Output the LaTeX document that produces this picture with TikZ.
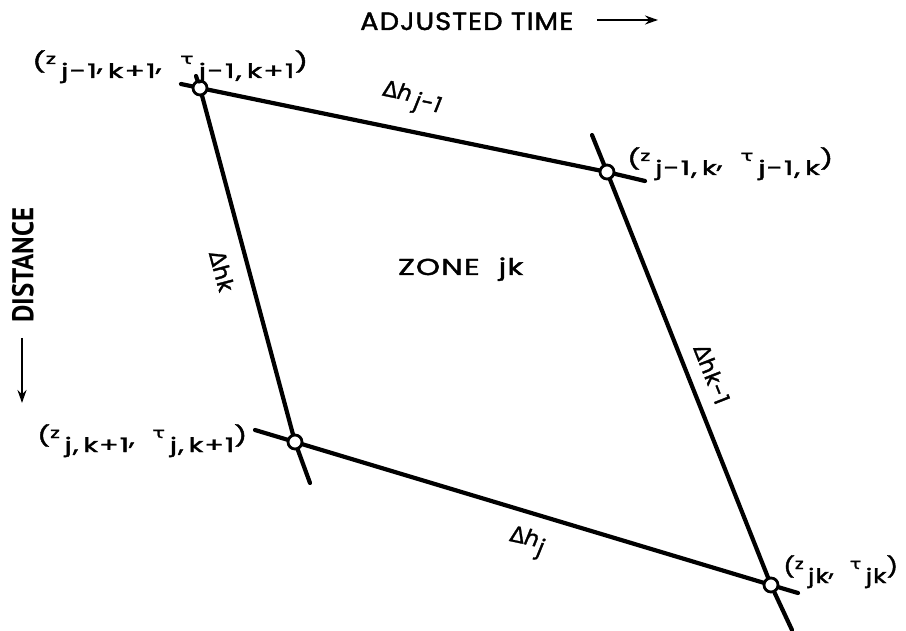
\documentclass[tikz,border=0pt]{standalone}
\usepackage{fontspec}
\usepackage{graphicx}
\setmainfont{Poppins}[FakeBold=1.6, LetterSpace=4]
\newfontfamily\gk{DejaVu Sans}[FakeBold=1.2]
\newfontfamily\distfont{PT Sans}
\usetikzlibrary{arrows.meta}
\newcommand\fitw[2]{\resizebox{#1}{\height}{#2}}
\newcommand\pr[1]{\raisebox{9pt}{#1}}
\newcommand\sm[1]{\raisebox{14pt}{\fontsize{15}{15}\selectfont #1}}
\newcommand\cm{\raisebox{7pt}{,}}
\newcommand\tu{\sm{\gk τ}}
\begin{document}
\begin{tikzpicture}[x=1pt,y=-1pt,
  edge/.style={line width=4.2pt, line cap=round},
  junction/.style={circle, draw, fill=white, line width=2.8pt, inner sep=0pt, minimum size=14pt},
  lbl/.style={font=\fontsize{20}{20}\selectfont, inner sep=0pt, anchor=base west},
  dlbl/.style={font=\fontsize{22}{22}\selectfont, inner sep=0pt},
  axis/.style={inner sep=0pt, anchor=base west},
  pointer/.style={line width=2.4pt, -{Stealth[length=13pt,width=9pt]}}]
\useasboundingbox (0,0) rectangle (906,631);
% junction positions
\coordinate (A) at (200,88);
\coordinate (B) at (607,172);
\coordinate (C) at (295,442);
\coordinate (D) at (771,585);
% free ends
\coordinate (aL) at (181,84);
\coordinate (bR) at (645,181);
\coordinate (aT) at (196,76);
\coordinate (cB) at (310,483);
\coordinate (bT) at (592,135);
\coordinate (dB) at (792,630);
\coordinate (cL) at (255,430);
\coordinate (dR) at (798,593);
\draw[edge] (aL) -- (A) -- (B) -- (bR);
\draw[edge] (aT) -- (A) -- (C) -- (cB);
\draw[edge] (bT) -- (B) -- (D) -- (dB);
\draw[edge] (cL) -- (C) -- (D) -- (dR);
\node[junction] (jA) at (A) {};
\node[junction] (jB) at (B) {};
\node[junction] (jC) at (C) {};
\node[junction] (jD) at (D) {};
% axis labels
\node[axis, font=\fontsize{25}{25}\selectfont] (time) at (360,30) {\fitw{213pt}{ADJUSTED TIME}};
\coordinate (tS) at (597,20);
\coordinate (tE) at (658,20);
\draw[pointer] (tS) -- (tE);
\node[font=\distfont\bfseries\fontsize{30}{30}\selectfont, inner sep=0pt, rotate=90] (dist) at (23,265) {\fitw{115pt}{DISTANCE}};
\coordinate (dS) at (22,338);
\coordinate (dE) at (22,403);
\draw[pointer] (dS) -- (dE);
% corner labels
\node[lbl] (lA) at (32,78) {\fitw{276pt}{\pr{(}\sm{z}\,j-1\cm\,k+1\cm\ \ \tu\,j-1,\,k+1\pr{)}}};
\node[lbl] (lB) at (627,175) {\fitw{206pt}{\pr{(}\sm{z}\,j-1,\,k\cm\ \ \tu\,j-1,\,k\pr{)}}};
\node[lbl] (lC) at (37,452) {\fitw{210pt}{\pr{(}\sm{z}\,j,\,k+1\cm\ \ \tu\,j,\,k+1\pr{)}}};
\node[lbl] (lD) at (783,583) {\fitw{115pt}{\pr{(}\sm{z}\,jk\cm\ \ \tu\,jk\pr{)}}};
% zone
\node[axis, font=\fontsize{23}{23}\selectfont] (zone) at (398,275) {\fitw{125pt}{ZONE\ \ jk}};
% increments
\node[dlbl, rotate=-11.7] (hj1) at (412,99) {{\gk Δ}\textit{h}\raisebox{-0.45ex}{\textit{\,j-1}}};
\node[dlbl, rotate=-75] (hk) at (222,271) {{\gk Δ}hk};
\node[dlbl, rotate=-68.5] (hk1) at (712,374) {{\gk Δ}hk-1};
\node[dlbl, rotate=-12] (hj) at (527,543) {{\gk Δ}\textit{h}\raisebox{-0.6ex}{\textit{j}}};
\end{tikzpicture}
\end{document}
